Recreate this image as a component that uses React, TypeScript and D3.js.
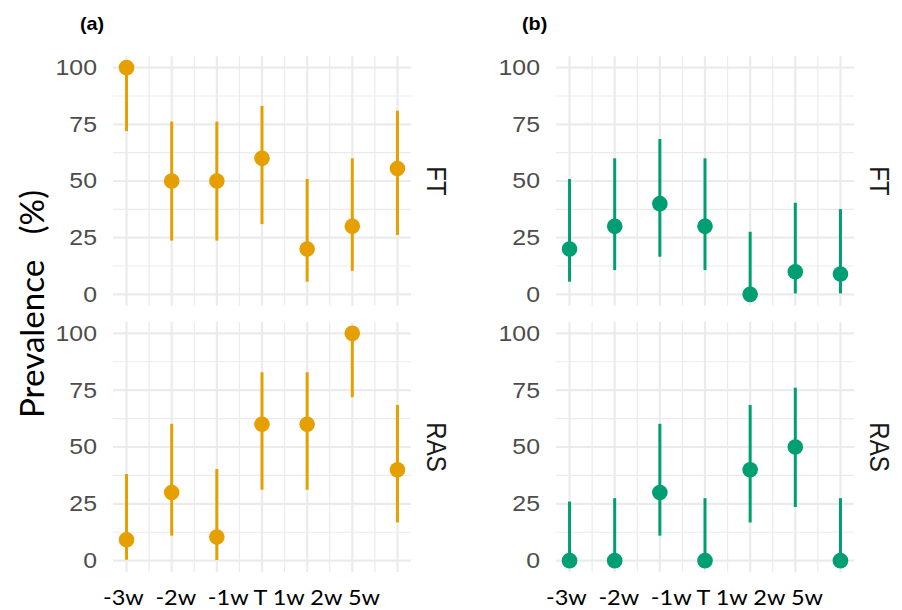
import React from 'react';
import * as d3 from 'd3';

// time points (x) and facet names
const categories = ['-3w', '-2w', '-1w', 'T', '1w', '2w', '5w'];
const facetNames = ['FT', 'RAS'];
const yTicks = [0, 25, 50, 75, 100];
const yMinor = [12.5, 37.5, 62.5, 87.5];

// panel (a): estimate with lower / upper bounds
const aFtEst = [100, 50, 50, 60, 20, 30, 55.5];
const aFtLo = [72, 23.7, 23.7, 31, 5.6, 10.4, 26.2];
const aFtHi = [100, 76.2, 76.2, 83.1, 50.9, 60, 81];
const aRasEst = [9.2, 30, 10.4, 60, 60, 100, 40];
const aRasLo = [0.4, 11, 0.3, 31.2, 31.2, 71.9, 16.8];
const aRasHi = [38.1, 60.2, 40.3, 82.9, 82.9, 100, 68.5];

// panel (b)
const bFtEst = [20, 30, 40, 30, 0, 10, 9];
const bFtLo = [5.6, 10.7, 16.6, 10.7, 0, 0.4, 0.4];
const bFtHi = [50.9, 60, 68.5, 60, 27.6, 40.4, 37.6];
const bRasEst = [0, 0, 30, 0, 40, 50, 0];
const bRasLo = [0, 0, 11, 0, 16.8, 23.6, 0];
const bRasHi = [26, 27.5, 60.2, 27.5, 68.5, 76.1, 27.5];

const panels = [
  { tag: '(a)', color: '#E69F00', left: 113, right: 411, tagX: 80, est: [aFtEst, aRasEst], lo: [aFtLo, aRasLo], hi: [aFtHi, aRasHi] },
  { tag: '(b)', color: '#009E73', left: 556, right: 854, tagX: 522, est: [bFtEst, bRasEst], lo: [bFtLo, bRasLo], hi: [bFtHi, bRasHi] },
];

const facetBox = [
  { top: 56.3, bottom: 305.7 },
  { top: 322, bottom: 572 },
];

const grid = '#ebebeb';
const axisFont = '"Liberation Sans", Arial, sans-serif';

const Panel = ({ p }) => {
  const x = d3.scaleLinear().domain([-0.3, categories.length - 1 + 0.3]).range([p.left, p.right]);
  const xMinor = d3.range(0.5, categories.length - 1, 1);

  return (
    <g>
      <text fontFamily={axisFont} fontWeight="bold" fontSize={18}
        transform={`translate(${p.tagX} 30) scale(1.1 1)`}>{p.tag}</text>
      {facetNames.map((name, fi) => {
        const box = facetBox[fi];
        const y = d3.scaleLinear().domain([-5, 105]).range([box.bottom, box.top]);
        const est = p.est[fi], lo = p.lo[fi], hi = p.hi[fi];
        return (
          <g key={name}>
            {yMinor.map(v => (
              <line key={'hm' + v} x1={p.left} x2={p.right} y1={y(v)} y2={y(v)} stroke={grid} strokeWidth={1.2} />
            ))}
            {xMinor.map(v => (
              <line key={'vm' + v} x1={x(v)} x2={x(v)} y1={box.top} y2={box.bottom} stroke={grid} strokeWidth={1.2} />
            ))}
            {yTicks.map(v => (
              <line key={'h' + v} x1={p.left} x2={p.right} y1={y(v)} y2={y(v)} stroke={grid} strokeWidth={2.2} />
            ))}
            {categories.map((c, i) => (
              <line key={'v' + c} x1={x(i)} x2={x(i)} y1={box.top} y2={box.bottom} stroke={grid} strokeWidth={2.2} />
            ))}
            {yTicks.map(v => (
              <text key={'t' + v} textAnchor="end" dominantBaseline="central" fontFamily={axisFont}
                fontSize={22} fill="#4d4d4d"
                transform={`translate(${p.left - 16} ${y(v)}) scale(1.13 1)`}>{v}</text>
            ))}
            {categories.map((c, i) => (
              <line key={'e' + c} x1={x(i)} x2={x(i)} y1={y(lo[i])} y2={y(hi[i])}
                stroke={p.color} strokeWidth={3} />
            ))}
            {categories.map((c, i) => (
              <circle key={'p' + c} cx={x(i)} cy={y(est[i])} r={7.8} fill={p.color} />
            ))}
            <text fontFamily={axisFont} fontSize={24} fill="#1a1a1a" textAnchor="middle"
              dominantBaseline="central"
              transform={`translate(${p.right + 26} ${(box.top + box.bottom) / 2}) rotate(90) scale(1 1.13)`}>{name}</text>
          </g>
        );
      })}
      <text x={p.left - 10} y={605} fontFamily="Lato, sans-serif" fontSize={21} fill="#000"
        textLength={277} lengthAdjust="spacingAndGlyphs" style={{ whiteSpace: 'pre' }}>
        {categories.slice(0, 3).join('  ') + ' ' + categories.slice(3).join(' ')}
      </text>
    </g>
  );
};

export default function App() {
  return (
    <svg width={902} height={610} style={{ position: 'absolute', left: 0, top: 0, background: '#fff' }}>
      <rect width={902} height={610} fill="#fff" />
      {panels.map(p => <Panel key={p.tag} p={p} />)}
      <text fontFamily="Lato, sans-serif" fontSize={32} fill="#000" textAnchor="middle"
        dominantBaseline="central" textLength={228} lengthAdjust="spacingAndGlyphs"
        style={{ whiteSpace: 'pre' }} transform="translate(31 304) rotate(-90)">
        {'Prevalence   (%)'}
      </text>
    </svg>
  );
}
